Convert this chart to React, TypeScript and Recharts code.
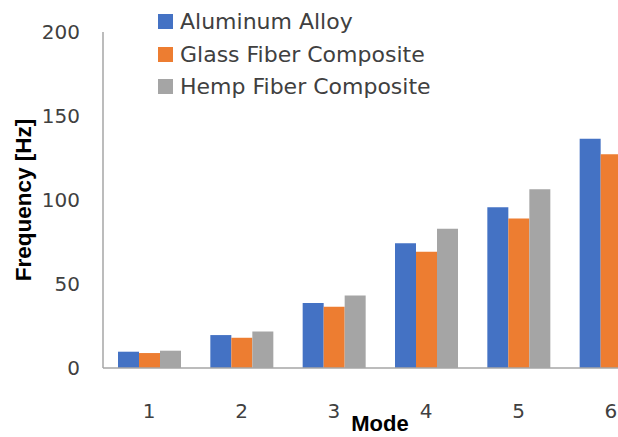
import { BarChart, Bar, XAxis, YAxis, Legend } from "recharts";

const modes = ["1", "2", "3", "4", "5", "6"];
const aluminum = [9.7, 19.6, 38.7, 74.3, 95.7, 136.4];
const glass = [8.9, 18.0, 36.5, 69.2, 89.0, 127.3];
const hemp = [10.3, 21.8, 43.2, 82.9, 106.4, 151];
const yTicks = [0, 50, 100, 150, 200];

const series = [
  { key: "aluminum", name: "Aluminum Alloy", color: "#4472C4" },
  { key: "glass", name: "Glass Fiber Composite", color: "#ED7D31" },
  { key: "hemp", name: "Hemp Fiber Composite", color: "#A5A5A5" },
];

const data = modes.map((m, i) => ({
  mode: m,
  aluminum: aluminum[i],
  glass: glass[i],
  hemp: hemp[i],
}));

const tickFont = { fontFamily: "DejaVu Sans", fontSize: 20, fill: "#404040" };
const titleFont = "Liberation Sans";

const LegendBox = () => (
  <div style={{ fontFamily: "DejaVu Sans", fontSize: 22, color: "#404040" }}>
    {series.map((s) => (
      <div
        key={s.key}
        style={{ height: 32.6, display: "flex", alignItems: "center", whiteSpace: "nowrap" }}
      >
        <span
          style={{ width: 15, height: 15, background: s.color, marginRight: 7, display: "inline-block" }}
        />
        <span>{s.name}</span>
      </div>
    ))}
  </div>
);

export default function App() {
  return (
    <div
      style={{
        position: "absolute",
        left: 0,
        top: 0,
        width: 618,
        height: 437,
        overflow: "hidden",
        background: "#fff",
      }}
    >
      <BarChart
        width={680}
        height={437}
        data={data}
        margin={{ top: 32, right: 23, bottom: 0, left: 0 }}
        barCategoryGap={15}
        barGap={0}
      >
        <XAxis
          dataKey="mode"
          height={69}
          tickLine={false}
          tickSize={0}
          tickMargin={36}
          axisLine={{ stroke: "#a6a6a6", strokeWidth: 1.5 }}
          tick={tickFont}
          label={{
            content: ({ viewBox }: any) => (
              <text
                x={viewBox.x + viewBox.width / 2}
                y={viewBox.y + 63}
                textAnchor="middle"
                fontFamily={titleFont}
                fontWeight="bold"
                fontSize={22}
                fill="#000"
              >
                Mode
              </text>
            ),
          }}
        />
        <YAxis
          width={103}
          domain={[0, 200]}
          ticks={yTicks}
          tickLine={false}
          tickSize={0}
          tickMargin={23}
          axisLine={{ stroke: "#a6a6a6", strokeWidth: 1.5 }}
          tick={tickFont}
          label={{
            content: ({ viewBox }: any) => {
              const cx = viewBox.x + 23;
              const cy = viewBox.y + viewBox.height / 2;
              return (
                <text
                  x={cx}
                  y={cy}
                  transform={`rotate(-90 ${cx} ${cy})`}
                  textAnchor="middle"
                  dominantBaseline="central"
                  fontFamily={titleFont}
                  fontWeight="bold"
                  fontSize={22.5}
                  fill="#000"
                >
                  Frequency [Hz]
                </text>
              );
            },
          }}
        />
        <Legend
          layout="horizontal"
          verticalAlign="middle"
          align="center"
          content={() => <LegendBox />}
          wrapperStyle={{ left: 158, top: 5.5, width: "auto", height: "auto" }}
        />
        {series.map((s) => (
          <Bar
            key={s.key}
            dataKey={s.key}
            name={s.name}
            fill={s.color}
            isAnimationActive={false}
          />
        ))}
      </BarChart>
    </div>
  );
}
